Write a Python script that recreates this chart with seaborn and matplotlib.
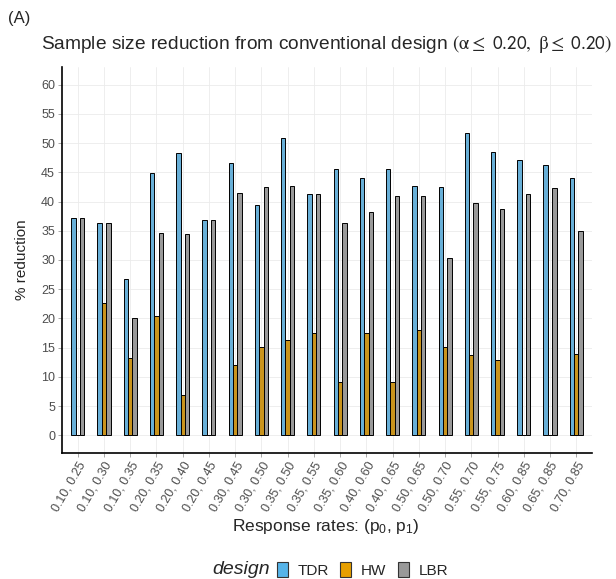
import matplotlib
matplotlib.use("Agg")
import matplotlib.pyplot as plt
from matplotlib.patches import Patch
import seaborn as sns
import pandas as pd

rates = ["0.10, 0.25", "0.10, 0.30", "0.10, 0.35", "0.20, 0.35", "0.20, 0.40",
         "0.20, 0.45", "0.30, 0.45", "0.30, 0.50", "0.35, 0.50", "0.35, 0.55",
         "0.35, 0.60", "0.40, 0.60", "0.40, 0.65", "0.50, 0.65", "0.50, 0.70",
         "0.55, 0.70", "0.55, 0.75", "0.60, 0.85", "0.65, 0.85", "0.70, 0.85"]
tdr = [37.2, 36.4, 26.7, 44.9, 48.3, 36.9, 46.6, 39.4, 50.9, 41.2,
       45.5, 44.1, 45.5, 42.6, 42.4, 51.7, 48.4, 47.1, 46.2, 44.1]
hw = [0.0, 22.7, 13.3, 20.4, 6.9, 0.0, 12.1, 15.2, 16.4, 17.6,
      9.1, 17.6, 9.1, 18.0, 15.2, 13.8, 12.9, 0.0, 0.0, 14.0]
lbr = [37.2, 36.4, 20.0, 34.7, 34.5, 36.9, 41.4, 42.4, 42.6, 41.2,
       36.4, 38.2, 40.9, 41.0, 30.3, 39.7, 38.7, 41.2, 42.3, 35.0]
designs = ["TDR", "HW", "LBR"]
colors = ["#56B4E9", "#E69F00", "#999999"]
yticks = list(range(0, 61, 5))

df = pd.DataFrame({
    "rates": rates * 3,
    "reduction": tdr + hw + lbr,
    "design": [d for d in designs for _ in rates],
})

sns.set_theme(style="white")
plt.rcParams["font.family"] = ["Liberation Sans", "DejaVu Sans"]
plt.rcParams["mathtext.fontset"] = "custom"
plt.rcParams["mathtext.rm"] = "Liberation Sans"
plt.rcParams["mathtext.it"] = "Liberation Sans:italic"

fig = plt.figure(figsize=(6.16, 5.79), dpi=100)
ax = fig.add_axes([62/616, 1-453/579, (592-62)/616, (453-67)/579])

sns.barplot(data=df, x="rates", y="reduction", hue="design", order=rates,
            hue_order=designs, palette=colors, width=0.5, errorbar=None,
            edgecolor="black", linewidth=0.7, legend=False, ax=ax, zorder=3)

ax.set_xlim(-0.6, len(rates) - 0.4)
ax.set_ylim(-3, 63)
ax.set_yticks(yticks)
ax.set_yticklabels([str(v) for v in yticks])
ax.grid(True, color="#EBEBEB", linewidth=0.6, zorder=0)
ax.set_axisbelow(True)
for s in ["top", "right"]:
    ax.spines[s].set_visible(False)
for s in ["left", "bottom"]:
    ax.spines[s].set_color("black")
    ax.spines[s].set_linewidth(1.2)
ax.tick_params(axis="both", which="major", length=3, width=0.6, color="#999999",
               labelcolor="#4D4D4D", labelsize=9, pad=2, bottom=True, left=True)
plt.setp(ax.get_xticklabels(), rotation=60, ha="right", rotation_mode="anchor")
ax.set_xlabel("")
ax.set_ylabel("")

fig.text(8/616, 1-18/579, "(A)", fontsize=12, ha="left", va="center")
fig.text(326/616, 1-44/579,
         r"Sample size reduction from conventional design $\left(\mathrm{\alpha} \leq\ \mathsf{0.20,}\ \mathrm{\beta} \leq\ \mathsf{0.20}\right)$",
         fontsize=13.8, ha="center", va="center", math_fontfamily="stix")
fig.text(326/616, 1-527/579, r"Response rates: (p$_0$, p$_1$)", fontsize=12.5,
         ha="center", va="center")
fig.text(22/616, 1-260/579, "% reduction", fontsize=11, rotation=90,
         ha="center", va="center")

fig.text(270/616, 1-569/579, "design", fontsize=14, style="italic",
         ha="right", va="center")
handles = [Patch(facecolor=c, edgecolor="#333333", linewidth=0.8) for c in colors]
fig.legend(handles, designs, loc="center left", bbox_to_anchor=(277/616, 1-570/579),
           ncol=3, frameon=False, fontsize=11, handlelength=0.7, handleheight=1.05,
           handletextpad=0.65, columnspacing=0.75, borderaxespad=0, borderpad=0)

fig.savefig("out.png", dpi=100)
